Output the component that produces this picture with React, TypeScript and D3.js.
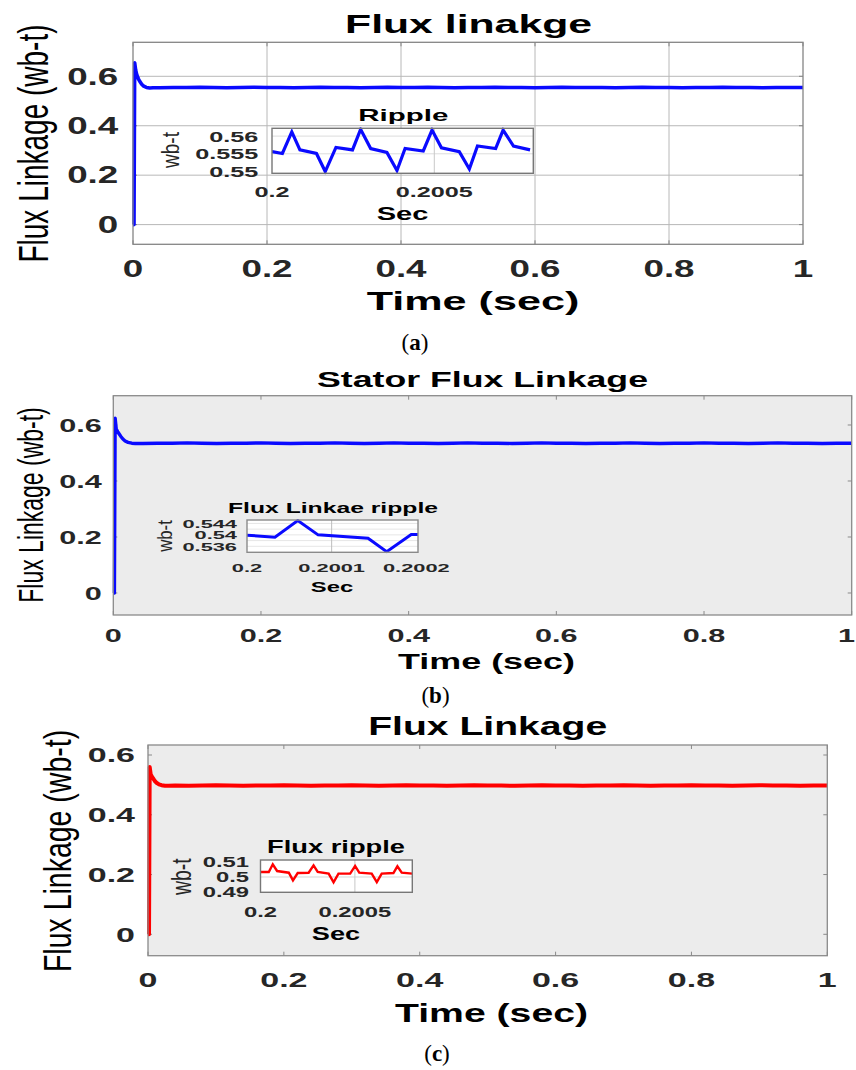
import React from 'react';
import * as d3 from 'd3';

// ---------------- DATA ----------------
const mainXTicks = [0, 0.2, 0.4, 0.6, 0.8, 1];
const mainXTickLabels = ['0', '0.2', '0.4', '0.6', '0.8', '1'];
const mainYTicks = [0, 0.2, 0.4, 0.6];
const mainYTickLabels = ['0', '0.2', '0.4', '0.6'];

const transientTime = [0, 0.0015, 0.0025, 0.004, 0.006, 0.008, 0.01, 0.013, 0.016, 0.02, 0.025, 0.03];
const steadyTime = [
  0.04, 0.06, 0.08, 0.1, 0.12, 0.14, 0.16, 0.18, 0.2, 0.22, 0.24, 0.26, 0.28, 0.3, 0.32, 0.34, 0.36,
  0.38, 0.4, 0.42, 0.44, 0.46, 0.48, 0.5, 0.52, 0.54, 0.56, 0.58, 0.6, 0.62, 0.64, 0.66, 0.68, 0.7,
  0.72, 0.74, 0.76, 0.78, 0.8, 0.82, 0.84, 0.86, 0.88, 0.9, 0.92, 0.94, 0.96, 0.98, 1.0,
];

const fluxATransient = [0, 0, 0.655, 0.625, 0.603, 0.59, 0.58, 0.568, 0.56, 0.555, 0.553, 0.554];
const fluxASteady = [
  0.554, 0.555, 0.555, 0.556, 0.555, 0.554, 0.555, 0.556, 0.555, 0.555, 0.554, 0.555, 0.556, 0.555,
  0.555, 0.554, 0.555, 0.556, 0.555, 0.555, 0.556, 0.555, 0.554, 0.555, 0.555, 0.556, 0.555, 0.555,
  0.554, 0.555, 0.556, 0.555, 0.555, 0.555, 0.554, 0.555, 0.556, 0.555, 0.555, 0.554, 0.555, 0.555,
  0.556, 0.555, 0.555, 0.554, 0.555, 0.555, 0.555,
];

const fluxBTransient = [0, 0, 0.624, 0.585, 0.576, 0.568, 0.56, 0.55, 0.543, 0.538, 0.535, 0.534];
const fluxBSteady = [
  0.534, 0.535, 0.535, 0.536, 0.535, 0.534, 0.535, 0.535, 0.536, 0.535, 0.534, 0.535, 0.535, 0.536,
  0.535, 0.534, 0.535, 0.536, 0.535, 0.535, 0.534, 0.535, 0.536, 0.535, 0.535, 0.534, 0.535, 0.536,
  0.535, 0.535, 0.534, 0.535, 0.535, 0.536, 0.535, 0.534, 0.535, 0.535, 0.536, 0.535, 0.535, 0.534,
  0.535, 0.536, 0.535, 0.535, 0.534, 0.535, 0.535,
];

const fluxCTransient = [0, 0, 0.56, 0.535, 0.527, 0.52, 0.513, 0.506, 0.502, 0.499, 0.497, 0.497];
const fluxCSteady = [
  0.498, 0.497, 0.498, 0.499, 0.498, 0.497, 0.498, 0.498, 0.499, 0.498, 0.497, 0.498, 0.498, 0.499,
  0.498, 0.497, 0.498, 0.499, 0.498, 0.498, 0.497, 0.498, 0.499, 0.498, 0.498, 0.497, 0.498, 0.499,
  0.498, 0.498, 0.497, 0.498, 0.498, 0.499, 0.498, 0.497, 0.498, 0.498, 0.499, 0.498, 0.498, 0.497,
  0.498, 0.499, 0.498, 0.498, 0.497, 0.498, 0.498,
];

// Inset (a): Ripple
const rippleATime = [
  0.2, 0.200032, 0.200061, 0.200086, 0.200137, 0.200164, 0.200197, 0.200248, 0.200273, 0.200304,
  0.200354, 0.200385, 0.20041, 0.200466, 0.200493, 0.200522, 0.200577, 0.200608, 0.200633,
  0.200689, 0.200712, 0.200744, 0.200795,
];
const rippleAValue = [
  0.5556, 0.5551, 0.5612, 0.5561, 0.5551, 0.55, 0.5568, 0.5561, 0.5619, 0.5565, 0.5554, 0.5503,
  0.5565, 0.5558, 0.5617, 0.5567, 0.5556, 0.5507, 0.5572, 0.5565, 0.5617, 0.5572, 0.5561,
];
const rippleAXTicks = [0.2, 0.2005];
const rippleAXTickLabels = ['0.2', '0.2005'];
const rippleAYTicks = [0.55, 0.555, 0.56];
const rippleAYTickLabels = ['0.55', '0.555', '0.56'];

// Inset (b): Flux Linkae ripple
const rippleBTime = [0.2, 0.200033, 0.20006, 0.200084, 0.200143, 0.200165, 0.200194, 0.200202];
const rippleBValue = [0.5399, 0.5392, 0.545, 0.54, 0.5388, 0.5341, 0.5401, 0.5401];
const rippleBXTicks = [0.2, 0.2001, 0.2002];
const rippleBXTickLabels = ['0.2', '0.2001', '0.2002'];
const rippleBYTicks = [0.536, 0.54, 0.544];
const rippleBYTickLabels = ['0.536', '0.54', '0.544'];
const rippleBMinorGrid = [0.536, 0.538, 0.54, 0.542, 0.544];

// Inset (c): Flux ripple
const rippleCTime = [
  0.2, 0.200044, 0.200065, 0.200088, 0.20015, 0.200172, 0.200197, 0.200255, 0.200281, 0.200303,
  0.200361, 0.200387, 0.200413, 0.200475, 0.200501, 0.200523, 0.200589, 0.200616, 0.200642,
  0.200704, 0.200725, 0.200748, 0.200804,
];
const rippleCValue = [
  0.5033, 0.5033, 0.5083, 0.5039, 0.5028, 0.4978, 0.5026, 0.5028, 0.5076, 0.5033, 0.5022, 0.4965,
  0.5022, 0.5022, 0.5072, 0.5028, 0.5022, 0.4967, 0.5022, 0.5026, 0.507, 0.5028, 0.5022,
];
const rippleCXTicks = [0.2, 0.2005];
const rippleCXTickLabels = ['0.2', '0.2005'];
const rippleCYTicks = [0.49, 0.5, 0.51];
const rippleCYTickLabels = ['0.49', '0.5', '0.51'];

// ---------------- LAYOUT ----------------
const FONT = "'Liberation Sans', Arial, Helvetica, sans-serif";
const SERIF = "'Liberation Serif', 'Times New Roman', serif";
const PAGE_W = 856;

type Txt = {
  x: number; y: number; size: number; text: string; sx?: number; len?: number;
  anchor?: 'start' | 'middle' | 'end'; weight?: number; fill?: string; rotate?: boolean; family?: string;
};

function T(p: Txt) {
  const tr = `translate(${p.x},${p.y}) scale(${p.sx ?? 1},1)${p.rotate ? ' rotate(-90)' : ''}`;
  return (
    <text
      transform={tr}
      fontSize={p.size}
      fontFamily={p.family ?? FONT}
      fontWeight={p.weight ?? 700}
      textAnchor={p.anchor ?? 'middle'}
      fill={p.fill ?? '#000'}
      {...(p.len ? { textLength: p.len, lengthAdjust: 'spacingAndGlyphs' } : {})}
    >
      {p.text}
    </text>
  );
}

type MainCfg = {
  id: string; left: number; right: number; top: number; bottom: number; yDomain: [number, number];
  bg: string; grid: boolean; frame: string; color: string; strokeW: number;
  tickSize: number; tickSx: number; yLabX: number; yLabOff: number; xLabY: number;
  title: Txt; xlabel: Txt; ylabel: Txt;
};

function MainPanel({ cfg, t, v }: { cfg: MainCfg; t: number[]; v: number[] }) {
  const x = d3.scaleLinear().domain([0, 1]).range([cfg.left, cfg.right]);
  const y = d3.scaleLinear().domain(cfg.yDomain).range([cfg.bottom, cfg.top]);
  const line = d3.line<number>().x((_, i) => x(t[i])).y((d) => y(d));
  const tl = 4;
  return (
    <g>
      <rect x={cfg.left} y={cfg.top} width={cfg.right - cfg.left} height={cfg.bottom - cfg.top} fill={cfg.bg} />
      {cfg.grid &&
        mainXTicks.slice(1, -1).map((d) => (
          <line key={'gx' + d} x1={x(d)} x2={x(d)} y1={cfg.top} y2={cfg.bottom} stroke="#b8b8b8" strokeWidth={1} />
        ))}
      {cfg.grid &&
        mainYTicks.map((d) => (
          <line key={'gy' + d} x1={cfg.left} x2={cfg.right} y1={y(d)} y2={y(d)} stroke="#b8b8b8" strokeWidth={1} />
        ))}
      {mainXTicks.map((d) => (
        <g key={'tx' + d}>
          <line x1={x(d)} x2={x(d)} y1={cfg.bottom} y2={cfg.bottom - tl} stroke={cfg.frame} />
          <line x1={x(d)} x2={x(d)} y1={cfg.top} y2={cfg.top + tl} stroke={cfg.frame} />
        </g>
      ))}
      {mainYTicks.map((d) => (
        <g key={'ty' + d}>
          <line x1={cfg.left} x2={cfg.left + tl} y1={y(d)} y2={y(d)} stroke={cfg.frame} />
          <line x1={cfg.right} x2={cfg.right - tl} y1={y(d)} y2={y(d)} stroke={cfg.frame} />
        </g>
      ))}
      <path d={line(v) ?? ''} fill="none" stroke={cfg.color} strokeWidth={cfg.strokeW} strokeLinejoin="round" />
      <rect x={cfg.left} y={cfg.top} width={cfg.right - cfg.left} height={cfg.bottom - cfg.top} fill="none" stroke={cfg.frame} strokeWidth={1.3} />
      {mainYTicks.map((d, i) => (
        <T key={'ly' + d} x={cfg.yLabX} y={y(d) + cfg.yLabOff} size={cfg.tickSize} sx={cfg.tickSx} anchor="end" fill="#262626" text={mainYTickLabels[i]} />
      ))}
      {mainXTicks.map((d, i) => {
        // keep the right-most label inside the page
        const half = (mainXTickLabels[i].length * 0.556 * cfg.tickSize * cfg.tickSx) / 2;
        const px = Math.min(x(d), PAGE_W - 1 - half);
        return <T key={'lx' + d} x={px} y={cfg.xLabY} size={cfg.tickSize} sx={cfg.tickSx} fill="#262626" text={mainXTickLabels[i]} />;
      })}
      <T {...cfg.title} />
      <T {...cfg.xlabel} />
      <T {...cfg.ylabel} />
    </g>
  );
}

type InsetCfg = {
  id: string; left: number; right: number; top: number; bottom: number;
  xDomain: [number, number]; yDomain: [number, number]; color: string; strokeW: number; frame: string;
  hGrid: number[]; vGrid: number[]; hGridColor: string; vGridColor: string;
  xTicks: number[]; xTickLabels: string[]; yTicks: number[]; yTickLabels: string[];
  tickSize: number; tickSx: number; yLabX: number; yLabOff: number; xLabY: number;
  title: Txt; xlabel: Txt; ylabel: Txt;
};

function Inset({ cfg, t, v }: { cfg: InsetCfg; t: number[]; v: number[] }) {
  const x = d3.scaleLinear().domain(cfg.xDomain).range([cfg.left, cfg.right]);
  const y = d3.scaleLinear().domain(cfg.yDomain).range([cfg.bottom, cfg.top]);
  const line = d3.line<number>().x((_, i) => x(t[i])).y((d) => y(d));
  return (
    <g>
      <defs>
        <clipPath id={'clip-' + cfg.id}>
          <rect x={cfg.left} y={cfg.top - 1} width={cfg.right - cfg.left} height={cfg.bottom - cfg.top + 2} />
        </clipPath>
      </defs>
      <rect x={cfg.left} y={cfg.top} width={cfg.right - cfg.left} height={cfg.bottom - cfg.top} fill="#fff" />
      {cfg.hGrid.map((d) => (
        <line key={'h' + d} x1={cfg.left} x2={cfg.right} y1={y(d)} y2={y(d)} stroke={cfg.hGridColor} strokeWidth={1} />
      ))}
      {cfg.vGrid.map((d) => (
        <line key={'v' + d} x1={x(d)} x2={x(d)} y1={cfg.top} y2={cfg.bottom} stroke={cfg.vGridColor} strokeWidth={1} />
      ))}
      <path d={line(v) ?? ''} fill="none" stroke={cfg.color} strokeWidth={cfg.strokeW} strokeLinejoin="miter" clipPath={`url(#clip-${cfg.id})`} />
      <rect x={cfg.left} y={cfg.top} width={cfg.right - cfg.left} height={cfg.bottom - cfg.top} fill="none" stroke={cfg.frame} strokeWidth={1.4} />
      {cfg.yTicks.map((d, i) => (
        <T key={'ly' + d} x={cfg.yLabX} y={y(d) + cfg.yLabOff} size={cfg.tickSize} sx={cfg.tickSx} anchor="end" fill="#262626" text={cfg.yTickLabels[i]} />
      ))}
      {cfg.xTicks.map((d, i) => (
        <T key={'lx' + d} x={x(d)} y={cfg.xLabY} size={cfg.tickSize} sx={cfg.tickSx} fill="#262626" text={cfg.xTickLabels[i]} />
      ))}
      <T {...cfg.title} />
      <T {...cfg.xlabel} />
      <T {...cfg.ylabel} />
    </g>
  );
}

const panelA: MainCfg = {
  id: 'a', left: 133, right: 803, top: 42.3, bottom: 244.3, yDomain: [-0.0797, 0.7376],
  bg: '#ffffff', grid: true, frame: '#858585', color: '#0a0aff', strokeW: 3.6,
  tickSize: 23, tickSx: 1.6, yLabX: 118.3, yLabOff: 8.3, xLabY: 277.3,
  title: { x: 468.5, y: 33.3, size: 26, len: 247, text: 'Flux linakge' },
  xlabel: { x: 473, y: 310, size: 25.6, len: 212.6, text: 'Time (sec)' },
  ylabel: { x: 48.3, y: 143.5, size: 28, sx: 1.55, rotate: true, weight: 400, text: 'Flux Linkage (wb-t)' },
};

const panelB: MainCfg = {
  id: 'b', left: 113.3, right: 851.7, top: 395.7, bottom: 615, yDomain: [-0.0786, 0.7046],
  bg: '#ececec', grid: false, frame: '#8a8a8a', color: '#0a0aff', strokeW: 3.4,
  tickSize: 18, tickSx: 1.7, yLabX: 101.7, yLabOff: 6.8, xLabY: 641.7,
  title: { x: 482.5, y: 387.3, size: 22, len: 331, text: 'Stator Flux Linkage' },
  xlabel: { x: 486.5, y: 669.3, size: 22.3, len: 177, text: 'Time (sec)' },
  ylabel: { x: 42.7, y: 505, size: 23, sx: 1.5, rotate: true, weight: 400, text: 'Flux Linkage (wb-t)' },
};

const panelC: MainCfg = {
  id: 'c', left: 148, right: 827.3, top: 745, bottom: 955.7, yDomain: [-0.0716, 0.6335],
  bg: '#ececec', grid: false, frame: '#8a8a8a', color: '#ff0000', strokeW: 4,
  tickSize: 20, tickSx: 1.7, yLabX: 135, yLabOff: 7.3, xLabY: 987.3,
  title: { x: 487.7, y: 735, size: 25.6, len: 239, text: 'Flux Linkage' },
  xlabel: { x: 491.5, y: 1021.7, size: 25.6, len: 193, text: 'Time (sec)' },
  ylabel: { x: 70.7, y: 851, size: 28.5, sx: 1.38, rotate: true, weight: 400, text: 'Flux Linkage (wb-t)' },
};

const insetA: InsetCfg = {
  id: 'ia', left: 272, right: 533.3, top: 128.3, bottom: 173.3,
  xDomain: [0.2, 0.200805], yDomain: [0.5495, 0.5622], color: '#0a0aff', strokeW: 3.2, frame: '#777',
  hGrid: [0.555, 0.56], vGrid: [0.2005], hGridColor: '#dcdcdc', vGridColor: '#c8c8c8',
  xTicks: rippleAXTicks, xTickLabels: rippleAXTickLabels, yTicks: rippleAYTicks, yTickLabels: rippleAYTickLabels,
  tickSize: 15, tickSx: 1.68, yLabX: 258.3, yLabOff: 5.5, xLabY: 196.7,
  title: { x: 403.3, y: 120.5, size: 16.3, len: 90, text: 'Ripple' },
  xlabel: { x: 402.5, y: 220, size: 17.5, len: 51.7, text: 'Sec' },
  ylabel: { x: 178.5, y: 150, size: 19, sx: 1.3, rotate: true, weight: 400, fill: '#262626', text: 'wb-t' },
};

const insetB: InsetCfg = {
  id: 'ib', left: 247, right: 418, top: 520, bottom: 552.3,
  xDomain: [0.2, 0.200202], yDomain: [0.5339, 0.5452], color: '#0a0aff', strokeW: 3, frame: '#8a8a8a',
  hGrid: rippleBMinorGrid, vGrid: [0.2001], hGridColor: '#e6e6e6', vGridColor: '#bdbdbd',
  xTicks: rippleBXTicks, xTickLabels: rippleBXTickLabels, yTicks: rippleBYTicks, yTickLabels: rippleBYTickLabels,
  tickSize: 11.6, tickSx: 1.88, yLabX: 237, yLabOff: 4.3, xLabY: 571.7,
  title: { x: 333, y: 513.3, size: 15, len: 210, text: 'Flux Linkae ripple' },
  xlabel: { x: 332, y: 591.7, size: 15.5, len: 42.3, text: 'Sec' },
  ylabel: { x: 171.7, y: 536, size: 16.8, sx: 1.25, rotate: true, weight: 400, fill: '#262626', text: 'wb-t' },
};

const insetC: InsetCfg = {
  id: 'ic', left: 260.5, right: 412.3, top: 860, bottom: 892.3,
  xDomain: [0.2, 0.200804], yDomain: [0.49, 0.5111], color: '#ff0000', strokeW: 2.4, frame: '#777',
  hGrid: [0.5], vGrid: [0.2005], hGridColor: '#d6d6d6', vGridColor: '#c8c8c8',
  xTicks: rippleCXTicks, xTickLabels: rippleCXTickLabels, yTicks: rippleCYTicks, yTickLabels: rippleCYTickLabels,
  tickSize: 14, tickSx: 1.7, yLabX: 249, yLabOff: 5, xLabY: 916.7,
  title: { x: 336, y: 852.7, size: 18.6, len: 138, text: 'Flux ripple' },
  xlabel: { x: 336, y: 940, size: 18.6, len: 48.3, text: 'Sec' },
  ylabel: { x: 191, y: 876.7, size: 19.4, sx: 1.4, rotate: true, weight: 400, fill: '#262626', text: 'wb-t' },
};

function Caption({ x, y, letter }: { x: number; y: number; letter: string }) {
  return (
    <text x={x} y={y} fontFamily={SERIF} fontSize={23} textAnchor="middle" fill="#000">
      (<tspan fontWeight={700}>{letter}</tspan>)
    </text>
  );
}

export default function App() {
  const timeAll = [...transientTime, ...steadyTime];
  return (
    <svg
      width={856}
      height={1070}
      viewBox="0 0 856 1070"
      style={{ position: 'absolute', left: 0, top: 0, background: '#fff' }}
    >
      <rect x={0} y={0} width={856} height={1070} fill="#fff" />
      <MainPanel cfg={panelA} t={timeAll} v={[...fluxATransient, ...fluxASteady]} />
      <Inset cfg={insetA} t={rippleATime} v={rippleAValue} />
      <Caption x={415} y={350} letter="a" />

      <MainPanel cfg={panelB} t={timeAll} v={[...fluxBTransient, ...fluxBSteady]} />
      <Inset cfg={insetB} t={rippleBTime} v={rippleBValue} />
      <Caption x={435.5} y={703} letter="b" />

      <MainPanel cfg={panelC} t={timeAll} v={[...fluxCTransient, ...fluxCSteady]} />
      <Inset cfg={insetC} t={rippleCTime} v={rippleCValue} />
      <Caption x={437} y={1061} letter="c" />
    </svg>
  );
}
